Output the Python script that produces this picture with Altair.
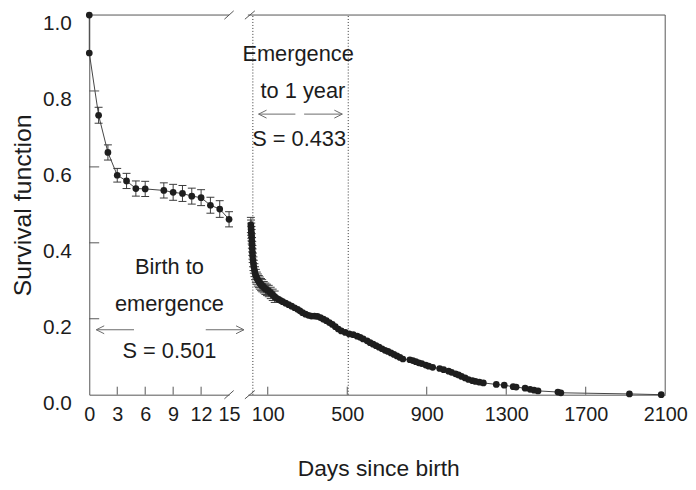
import altair as alt
import pandas as pd

FONT = "Liberation Sans"
INK = "#1c1c1c"
GREY = "#555555"

# ---------------- data ----------------
left_days = [0, 0, 1, 2, 3, 4, 5, 6, 8, 9, 10, 11, 12, 13, 14, 15]
left_surv = [1.0, 0.90, 0.736, 0.638, 0.578, 0.563, 0.543, 0.542, 0.538, 0.533,
             0.530, 0.523, 0.519, 0.499, 0.489, 0.462]
left_err = [0, 0, 0.021, 0.020, 0.018, 0.020, 0.020, 0.020, 0.020, 0.021,
            0.021, 0.021, 0.021, 0.021, 0.022, 0.020]

right_days = [15, 16, 17, 18, 19, 20, 21, 22, 23, 24, 26, 28, 30, 33, 36, 40, 45, 50,
              55, 60, 66, 72, 80, 88, 96, 105, 115, 125, 135, 145, 155, 165, 175, 190,
              205, 220, 235, 250, 262, 275, 290, 305, 320, 335, 350, 365, 380, 395, 410,
              425, 440, 455, 470, 490, 510, 530, 550, 565, 580, 600, 615, 630, 645, 660,
              675, 690, 705, 720, 735, 750, 765, 780, 815, 830, 845, 860, 875, 895, 910,
              930, 965, 985, 1010, 1025, 1045, 1060, 1075, 1093, 1110, 1130, 1145, 1165,
              1185, 1250, 1290, 1335, 1350, 1395, 1420, 1440, 1460, 1560, 1575, 1920, 2080]
right_surv = [0.447, 0.440, 0.432, 0.424, 0.416, 0.405, 0.395, 0.385, 0.375, 0.366,
              0.355, 0.345, 0.337, 0.328, 0.320, 0.313, 0.307, 0.302, 0.298, 0.294,
              0.290, 0.287, 0.283, 0.279, 0.276, 0.273, 0.268, 0.263, 0.258, 0.254,
              0.251, 0.248, 0.245, 0.241, 0.237, 0.233, 0.229, 0.225, 0.221, 0.216,
              0.212, 0.209, 0.207, 0.207, 0.206, 0.203, 0.199, 0.195, 0.190, 0.185,
              0.179, 0.173, 0.168, 0.164, 0.160, 0.158, 0.154, 0.151, 0.147, 0.142,
              0.137, 0.133, 0.129, 0.125, 0.121, 0.117, 0.114, 0.110, 0.106, 0.102,
              0.098, 0.094, 0.092, 0.090, 0.087, 0.084, 0.082, 0.078, 0.075, 0.072,
              0.069, 0.066, 0.062, 0.059, 0.055, 0.052, 0.048, 0.044, 0.040, 0.037,
              0.035, 0.033, 0.031, 0.027, 0.025, 0.021, 0.020, 0.017, 0.014, 0.012,
              0.010, 0.007, 0.005, 0.002, 0.000]
right_err_days = [15, 16, 17, 18, 19, 20, 21, 22, 23, 24, 26, 28, 30, 33, 36, 40, 45,
                  50, 55, 60, 66, 72, 80, 88, 96, 105, 115, 125, 135]
right_err = [0.020, 0.020, 0.020, 0.019, 0.019, 0.019, 0.019, 0.018, 0.018, 0.018,
             0.018, 0.018, 0.017, 0.017, 0.017, 0.017, 0.016, 0.016, 0.016, 0.016,
             0.016, 0.016, 0.015, 0.015, 0.015, 0.015, 0.015, 0.015, 0.015]

left_xticks = [0, 3, 6, 9, 12, 15]
right_xticks = [100, 500, 900, 1300, 1700, 2100]
y_ticks = [0.0, 0.2, 0.4, 0.6, 0.8, 1.0]
left_inner_xticks = [3, 6, 9, 12]
right_inner_xticks = [100, 500, 900, 1300, 1700]
inner_yticks = [0.2, 0.4, 0.6, 0.8]
divider_days = [25, 505]

left_text = ["Birth to", "emergence", "S = 0.501"]
left_text_x = [8.6, 8.6, 8.6]
left_text_y = [0.335, 0.238, 0.114]
right_text = ["Emergence", "to 1 year", "S = 0.433"]
right_text_x = [253, 277, 258]
right_text_y = [0.897, 0.800, 0.673]

left_arrow_start = [4.8, 12.5]
left_arrow_tip = [0.75, 16.6]
left_arrow_s = 0.171
right_arrow_start = [239, 283]
right_arrow_tip = [54, 475]
right_arrow_s = 0.739

HEAD_LEFT = "M1.6,-0.8L0,0L1.6,0.8"
HEAD_RIGHT = "M-1.6,-0.8L0,0L-1.6,0.8"
CAP = "M-1,0L1,0"

Y_SCALE = alt.Scale(domain=[0, 1], nice=False, zero=True)


def panel(days, surv, err_days, err_vals, xdom, xticks, inner_x, width,
          texts, tx, ty, a_start, a_tip, a_s, breaks_x, show_y, extra=None):
    xs = alt.Scale(domain=xdom, nice=False, zero=False)
    pts = pd.DataFrame({"d": days, "s": surv, "i": list(range(len(days)))})
    errs = pd.DataFrame({"d": err_days, "s": [surv[days.index(d)] for d in err_days],
                         "e": err_vals})
    errs["lo"] = errs["s"] - errs["e"]
    errs["hi"] = errs["s"] + errs["e"]
    errs = errs[errs["e"] > 0]
    caps = pd.concat([pd.DataFrame({"d": errs["d"], "y": errs["lo"]}),
                      pd.DataFrame({"d": errs["d"], "y": errs["hi"]})])

    if show_y:
        yaxis = alt.Axis(values=y_ticks, format=".1f", title="Survival function",
                         ticks=False, grid=False, labelPadding=18, labelOffset=-2,
                         labelBaseline="top", domainColor=GREY, titlePadding=7,
                         labelOverlap=False, labelFontSize=21)
    else:
        yaxis = None
    xaxis = alt.Axis(values=xticks, format="d", title=None, ticks=False, grid=False,
                     labelPadding=10, labelFlush=False, labelOverlap=False,
                     labelSeparation=0, labelBound=False, domainColor=GREY)

    def X(field):
        return alt.X(field, scale=xs, axis=xaxis)

    def Y(field):
        return alt.Y(field, scale=Y_SCALE, axis=yaxis)

    base = alt.Chart(pts)
    layers = []
    layers.append(base.mark_line(color="#444444", strokeWidth=1).encode(
        x=X("d:Q"), y=Y("s:Q"), order="i:Q"))

    # top border
    top = alt.Chart(pd.DataFrame({"a": [xdom[0]], "b": [xdom[1]], "s": [1.0]})).mark_rule(
        color=GREY, strokeWidth=1).encode(x=X("a:Q"), x2="b:Q", y=Y("s:Q"))
    layers.append(top)

    # axis breaks (slashes) at bottom and top
    brk = pd.DataFrame({"x1": [breaks_x[0], breaks_x[0]], "x2": [breaks_x[1], breaks_x[1]],
                        "y1": [-0.011, 0.989], "y2": [0.011, 1.011]})
    layers.append(alt.Chart(brk).mark_rule(color=GREY, strokeWidth=1).encode(
        x=X("x1:Q"), x2="x2:Q", y=Y("y1:Q"), y2="y2:Q"))

    # inward x ticks
    xt = pd.DataFrame({"d": inner_x, "a": [0.0] * len(inner_x), "b": [0.021] * len(inner_x)})
    layers.append(alt.Chart(xt).mark_rule(color=GREY, strokeWidth=1).encode(
        x=X("d:Q"), y=Y("a:Q"), y2="b:Q"))

    if show_y:
        tick_len = (xdom[1] - xdom[0]) * 10.0 / width
        yt = pd.DataFrame({"s": inner_yticks, "a": [xdom[0]] * len(inner_yticks),
                           "b": [xdom[0] + tick_len] * len(inner_yticks)})
        layers.append(alt.Chart(yt).mark_rule(color=GREY, strokeWidth=1).encode(
            y=Y("s:Q"), x=X("a:Q"), x2="b:Q"))

    if extra is not None:
        for e in extra:
            layers.append(e(X, Y))

    # error bars
    layers.append(alt.Chart(errs).mark_rule(color="#3a3a3a", strokeWidth=1).encode(
        x=X("d:Q"), y=Y("lo:Q"), y2="hi:Q"))
    layers.append(alt.Chart(caps).mark_point(shape=CAP, size=64, filled=False,
                                             color="#3a3a3a", strokeWidth=1, opacity=1).encode(
        x=X("d:Q"), y=Y("y:Q")))

    # data points
    layers.append(base.mark_circle(size=46, color="#1e1e1e", opacity=1).encode(
        x=X("d:Q"), y=Y("s:Q")))

    # annotations
    tdf = pd.DataFrame({"t": texts, "x": tx, "y": ty})
    layers.append(alt.Chart(tdf).mark_text(font=FONT, fontSize=22, color=INK,
                                           align="center", baseline="middle").encode(
        x=X("x:Q"), y=Y("y:Q"), text="t:N"))
    adf = pd.DataFrame({"a": a_start, "b": a_tip, "y": [a_s] * 2,
                        "shape": [HEAD_LEFT, HEAD_RIGHT]})
    layers.append(alt.Chart(adf).mark_rule(color="#6a6a6a", strokeWidth=1).encode(
        x=X("a:Q"), x2="b:Q", y=Y("y:Q")))
    layers.append(alt.Chart(adf).mark_point(filled=False, size=100, color="#6a6a6a",
                                            strokeWidth=1, opacity=1).encode(
        x=X("b:Q"), y=Y("y:Q"), shape=alt.Shape("shape:N", scale=None)))

    return alt.layer(*layers).properties(width=width, height=383)


def right_extras():
    def dividers(X, Y):
        ddf = pd.DataFrame({"d": divider_days, "a": [0.0] * 2, "b": [1.0] * 2})
        return alt.Chart(ddf).mark_rule(color="#333333", strokeWidth=1,
                                        strokeDash=[1, 2]).encode(
            x=X("d:Q"), y=Y("a:Q"), y2="b:Q")

    def border(X, Y):
        bdf = pd.DataFrame({"d": [2100], "a": [0.0], "b": [1.0]})
        return alt.Chart(bdf).mark_rule(color=GREY, strokeWidth=1).encode(
            x=X("d:Q"), y=Y("a:Q"), y2="b:Q")
    return [dividers, border]


left = panel(left_days, left_surv, left_days, left_err, [0, 15], left_xticks,
             left_inner_xticks, 141, left_text, left_text_x, left_text_y,
             left_arrow_start, left_arrow_tip, left_arrow_s, [14.5, 15.5], True)

right = panel(right_days, right_surv, right_err_days, right_err, [0, 2100], right_xticks,
              right_inner_xticks, 421, right_text, right_text_x, right_text_y,
              right_arrow_start, right_arrow_tip, right_arrow_s, [-15, 35], False,
              extra=right_extras())

chart = alt.hconcat(left, right, spacing=19, bounds="flush").properties(
    padding={"left": 2, "top": 0, "right": 0, "bottom": 0},
    title=alt.TitleParams("Days since birth", orient="bottom", anchor="middle",
                          font=FONT, fontSize=23, fontWeight="normal", color=INK,
                          offset=34, dx=30),
).configure_view(stroke=None).configure_axis(
    labelFont=FONT, labelFontSize=20, labelColor=INK,
    labelOverlap=False, labelFlush=False, labelBound=False,
    titleFont=FONT, titleFontSize=25, titleFontWeight="normal", titleColor=INK,
)

chart.save("out.html", embed_options={"renderer": "svg", "actions": False})
